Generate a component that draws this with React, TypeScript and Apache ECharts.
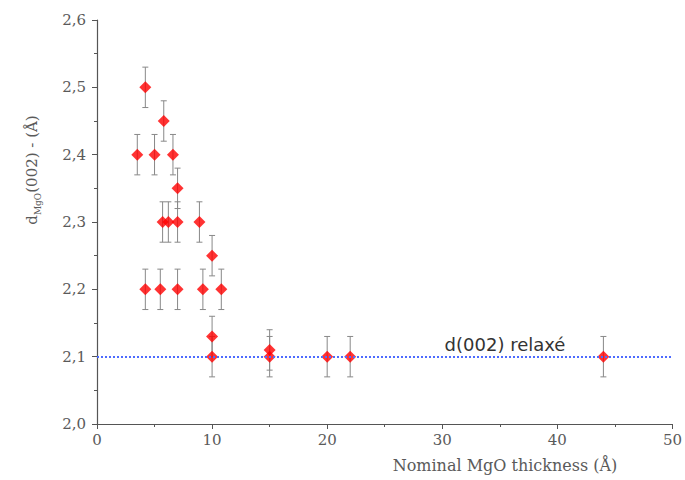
import React, { useEffect, useRef } from "react";
import * as echarts from "echarts";

const thickness = [3.5, 4.2, 4.2, 5.0, 5.5, 5.8, 5.7, 6.2, 6.6, 7.0, 7.0, 7.0, 8.9, 9.2, 10.0, 10.0, 10.0, 10.8, 15.0, 15.0, 20.0, 22.0, 44.0];
const spacing = [2.40, 2.50, 2.20, 2.40, 2.20, 2.45, 2.30, 2.30, 2.40, 2.35, 2.30, 2.20, 2.30, 2.20, 2.25, 2.13, 2.10, 2.20, 2.11, 2.10, 2.10, 2.10, 2.10];
const errors = [0.03, 0.03, 0.03, 0.03, 0.03, 0.03, 0.03, 0.03, 0.03, 0.03, 0.03, 0.03, 0.03, 0.03, 0.03, 0.03, 0.03, 0.03, 0.03, 0.03, 0.03, 0.03, 0.03];
const relaxedValue = 2.095;
const relaxedLabel = "d(002) relaxé";
const xTitle = "Nominal MgO thickness (Å)";

export default function App() {
  const ref = useRef<HTMLDivElement>(null);
  useEffect(() => {
    if (!ref.current) return;
    const chart = echarts.init(ref.current, null, { renderer: "svg" });
    const points = thickness.map((x, i) => [x, spacing[i]]);
    const bars = thickness.map((x, i) => [x, spacing[i], errors[i]]);
    const serif = "DejaVu Serif";
    const txt = "#5a5a5a";
    chart.setOption({
      animation: false,
      backgroundColor: "#fff",
      grid: { left: 97, right: 11, top: 20, bottom: 56 },
      xAxis: {
        type: "value",
        min: 0,
        max: 50,
        interval: 10,
        axisLine: { show: true, lineStyle: { color: "#555", width: 1.2 } },
        axisTick: { show: true, length: 5, lineStyle: { color: "#555" } },
        minorTick: { show: true, splitNumber: 2, length: 3, lineStyle: { color: "#555" } },
        splitLine: { show: false },
        axisLabel: { color: txt, fontFamily: serif, fontSize: 15, margin: 8 },
      },
      yAxis: {
        type: "value",
        min: 2.0,
        max: 2.6,
        interval: 0.1,
        axisLine: { show: true, lineStyle: { color: "#555", width: 1.2 } },
        axisTick: { show: true, length: 5, lineStyle: { color: "#555" } },
        minorTick: { show: true, splitNumber: 2, length: 3, lineStyle: { color: "#555" } },
        splitLine: { show: false },
        axisLabel: {
          color: txt,
          fontFamily: serif,
          fontSize: 15,
          margin: 11,
          formatter: (v: number) => v.toFixed(1).replace(".", ","),
        },
      },
      graphic: [
        {
          type: "text",
          x: 505,
          y: 465,
          style: { text: xTitle, fill: txt, font: `16px "${serif}"`, align: "center", verticalAlign: "middle" },
        },
        {
          type: "text",
          x: 32,
          y: 170,
          rotation: Math.PI / 2,
          style: {
            text: "{a|d}{b|MgO}{a|(002) - (Å)}",
            align: "center",
            verticalAlign: "middle",
            rich: {
              a: { fontFamily: serif, fontSize: 15, fill: txt, lineHeight: 20 },
              b: { fontFamily: serif, fontSize: 9, fill: txt, lineHeight: 20, verticalAlign: "bottom", padding: [8, 0, 0, 0] },
            },
          },
        },
        {
          type: "text",
          x: 505,
          y: 344,
          style: { text: relaxedLabel, fill: "#333", font: `18px "DejaVu Sans"`, align: "center", verticalAlign: "middle" },
        },
      ],
      series: [
        {
          type: "custom",
          z: 1,
          silent: true,
          data: bars,
          renderItem: (params: any, api: any) => {
            const x = api.value(0);
            const y = api.value(1);
            const e = api.value(2);
            const top = api.coord([x, y + e]);
            const bot = api.coord([x, y - e]);
            const c = 3;
            const style = { stroke: "#888", lineWidth: 1 };
            return {
              type: "group",
              children: [
                { type: "line", shape: { x1: top[0], y1: top[1], x2: bot[0], y2: bot[1] }, style },
                { type: "line", shape: { x1: top[0] - c, y1: top[1], x2: top[0] + c, y2: top[1] }, style },
                { type: "line", shape: { x1: bot[0] - c, y1: bot[1], x2: bot[0] + c, y2: bot[1] }, style },
              ],
            };
          },
        },
        {
          type: "scatter",
          z: 3,
          symbol: "diamond",
          symbolSize: 12,
          itemStyle: { color: "#ff0000" },
          data: points,
          markLine: {
            silent: true,
            symbol: "none",
            label: { show: false },
            lineStyle: { type: "dotted", color: "#4d6bff", width: 2 },
            data: [{ yAxis: relaxedValue }],
          },
        },
      ],
    });
    return () => chart.dispose();
  }, []);
  return <div ref={ref} style={{ position: "fixed", left: 0, top: 0, width: 685, height: 480 }} />;
}
